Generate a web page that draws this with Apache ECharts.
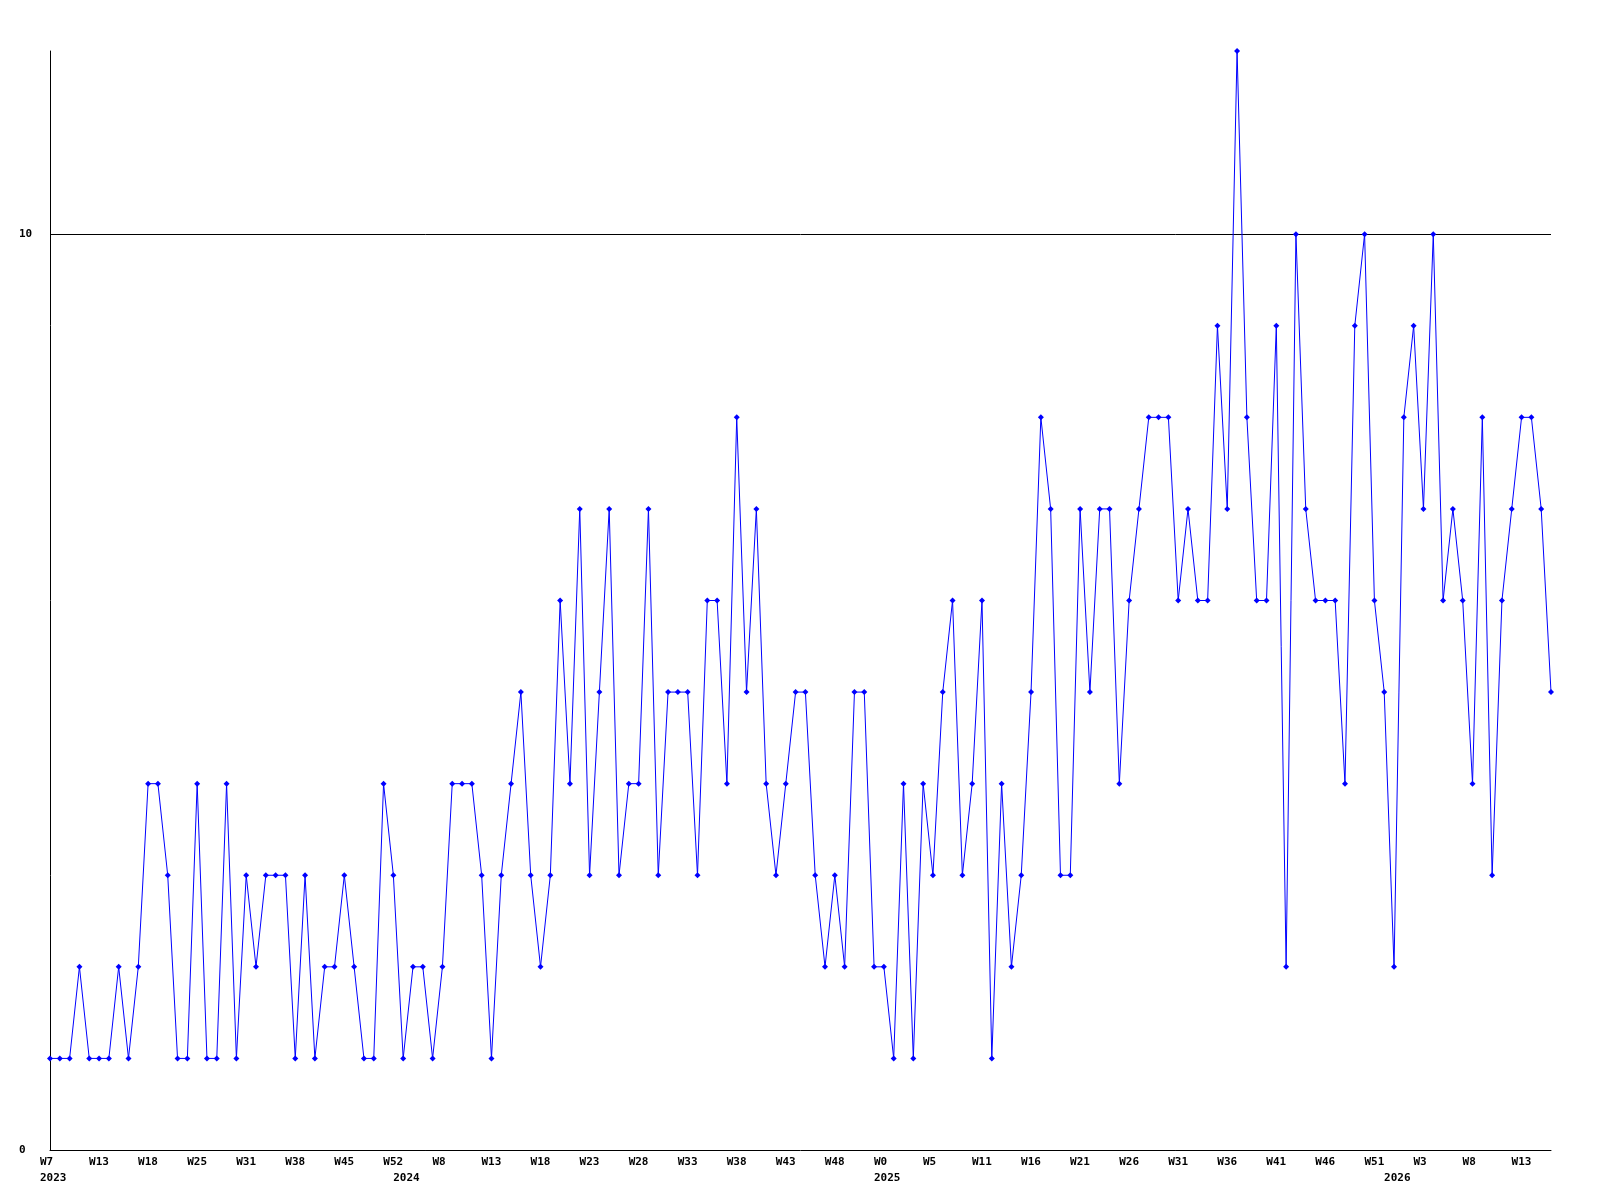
<!DOCTYPE html>
<html>
<head>
<meta charset="utf-8">
<script src="https://cdn.jsdelivr.net/npm/echarts@6/dist/echarts.min.js"></script>
<style>
html,body{margin:0;padding:0;background:#fff;}
#chart{width:1600px;height:1200px;}
</style>
</head>
<body>
<div id="chart"></div>
<script>
// Weekly values, one per point (154 points)
const values = [
  1,1,1,2,1,1,1,2,1,2,
  4,4,3,1,1,4,1,1,4,1,
  3,2,3,3,3,1,3,1,2,2,
  3,2,1,1,4,3,1,2,2,1,
  2,4,4,4,3,1,3,4,5,3,
  2,3,6,4,7,3,5,7,3,4,
  4,7,3,5,5,5,3,6,6,4,
  8,5,7,4,3,4,5,5,3,2,
  3,2,5,5,2,2,1,4,1,4,
  3,5,6,3,4,6,1,4,2,3,
  5,8,7,3,3,7,5,7,7,4,
  6,7,8,8,8,6,7,6,6,9,
  7,12,8,6,6,9,2,10,7,6,
  6,6,4,9,10,6,5,2,8,9,
  7,10,6,7,6,4,8,3,6,7,
  8,8,7,5
];
// Week tick labels, shown on every 5th point
const weekTickLabels = [
  'W7','W13','W18','W25','W31','W38','W45','W52',
  'W8','W13','W18','W23','W28','W33','W38','W43','W48',
  'W0','W5','W11','W16','W21','W26','W31','W36','W41','W46','W51',
  'W3','W8','W13'
];
// Year labels and the point each one sits under
const yearTickIndex = [0, 36, 85, 137];
const yearTickText = ['2023', '2024', '2025', '2026'];

const categories = values.map((_, i) => String(i));
const FONT = 'DejaVu Sans Mono';
const richW = { w: { width: 20, align: 'left', fontFamily: FONT, fontWeight: 'bold', fontSize: 11, color: '#000' } };

const chart = echarts.init(document.getElementById('chart'), null, { renderer: 'canvas' });
chart.setOption({
  animation: false,
  backgroundColor: '#fff',
  grid: { left: 50, right: 49, top: 51, bottom: 50, containLabel: false },
  xAxis: [
    {
      type: 'category', data: categories, boundaryGap: false, position: 'bottom',
      axisLine: { show: true, lineStyle: { color: '#000', width: 1 } },
      axisTick: { show: false },
      splitLine: { show: false },
      axisLabel: {
        interval: (i) => i % 5 === 0,
        formatter: (v, i) => '{w|' + (weekTickLabels[i / 5] || '') + '}',
        rich: richW, margin: 7, align: 'center', hideOverlap: false
      }
    },
    {
      type: 'category', data: categories, boundaryGap: false, position: 'bottom',
      axisLine: { show: false }, axisTick: { show: false }, splitLine: { show: false },
      axisLabel: {
        interval: (i) => yearTickIndex.indexOf(i) >= 0,
        formatter: (v, i) => '{w|' + yearTickText[yearTickIndex.indexOf(i)] + '}',
        rich: richW, margin: 23, align: 'center', hideOverlap: false
      }
    }
  ],
  yAxis: {
    type: 'value', min: 0, max: 12, interval: 10,
    axisLine: { show: true, lineStyle: { color: '#000', width: 1 } },
    axisTick: { show: false },
    splitLine: { show: true, showMinLine: false, showMaxLine: false, lineStyle: { color: '#000', width: 1 } },
    axisLabel: {
      formatter: (v) => (v === 0 || v === 10) ? String(v) : '',
      align: 'left', margin: 31,
      fontFamily: FONT, fontWeight: 'bold', fontSize: 11, color: '#000'
    }
  },
  series: [{
    type: 'line', data: values, xAxisIndex: 0,
    symbol: 'diamond', symbolSize: 6, showAllSymbol: true,
    lineStyle: { color: '#0000ff', width: 1 },
    itemStyle: { color: '#0000ff' }
  }]
});
</script>
</body>
</html>
